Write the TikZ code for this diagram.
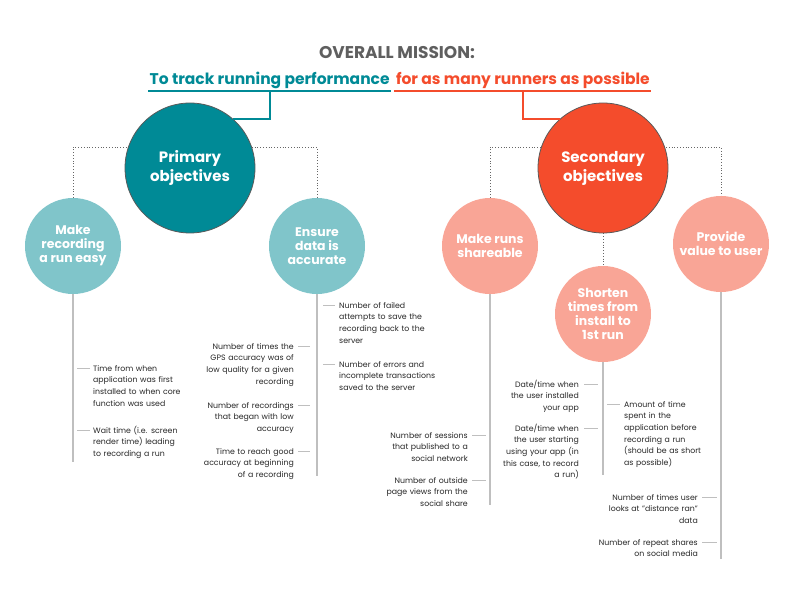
\documentclass[tikz,border=0pt]{standalone}
\usepackage{fontspec}
\setmainfont{Poppins}
\setsansfont{Poppins}
\definecolor{runteal}{RGB}{0,138,150}
\definecolor{runtealpale}{RGB}{128,197,202}
\definecolor{runorange}{RGB}{244,76,44}
\definecolor{runorangepale}{RGB}{249,165,150}
\definecolor{rungray}{RGB}{95,95,95}
\tikzset{every picture/.style={/utils/exec={\sffamily}}}
\usetikzlibrary{positioning}
\usetikzlibrary{backgrounds}

\tikzset{
  bigobj/.style={circle, minimum size=130pt, inner sep=0pt, draw=black!65, line width=0.8pt, text=white, align=center, font=\fontsize{15}{19}\selectfont\bfseries},
  subobj/.style={circle, minimum size=96pt, inner sep=0pt, text=white, align=center, font=\fontsize{12.5}{14}\selectfont\bfseries},
  goal/.style={anchor=base west, inner xsep=1.5pt, inner ysep=0pt, font=\fontsize{15.5}{19}\selectfont\bfseries},
  metricr/.style={anchor=base west, inner sep=0pt, text width=120pt, align=left, text=black!85, font=\fontsize{7.8}{11.7}\selectfont},
  metricl/.style={anchor=base east, inner sep=0pt, text width=120pt, align=right, text=black!85, font=\fontsize{7.8}{11.7}\selectfont},
  stem/.style={draw=black!25, line width=1.2pt},
  tick/.style={draw=black!25, line width=1pt},
  dots/.style={draw=black!60, dotted, line width=0.8pt},
}

\begin{document}
\begin{tikzpicture}[x=1pt, y=-1pt]
  \useasboundingbox (0,0) rectangle (792,612);

  % mission
  \node[font=\fontsize{17}{20}\selectfont\bfseries, text=rungray] (mission) at (397,53) {OVERALL MISSION:};
  \node[goal, text=runteal] (goalrun) at (148,85) {To track running performance};
  \node[goal, text=runorange, base right=3pt of goalrun] (goalall) {for as many runners as possible};

  % objectives
  \node[bigobj, fill=runteal] (prim) at (190,168) {Primary\\objectives};
  \node[bigobj, fill=runorange] (sec) at (603,168) {Secondary\\objectives};

  \node[subobj, fill=runtealpale] (easy) at (73,246) {Make\\recording\\a run easy};
  \node[subobj, fill=runtealpale] (accur) at (317,246) {Ensure\\data is\\accurate};
  \node[subobj, fill=runorangepale] (share) at (490,246) {Make runs\\shareable};
  \node[subobj, fill=runorangepale] (value) at (721,244) {Provide\\value to user};
  \node[subobj, fill=runorangepale] (install) at (603,314) {Shorten\\times from\\install to\\1st run};

  \begin{scope}[on background layer]
    \draw[dots] (easy.north) |- ([yshift=21pt]prim.center) -| (accur.north);
    \draw[dots] (share.north) |- ([yshift=21pt]sec.center) -| (value.north);
    \draw[dots] (sec.south) -- (install.north);
  \end{scope}

  \draw[runteal, line width=2pt] ([yshift=-6.5pt]goalrun.base west) -- ([yshift=-6.5pt]goalrun.base east);
  \draw[runorange, line width=2pt] ([yshift=-6.5pt]goalall.base west) -- ([yshift=-6.5pt]goalall.base east);
  \draw[runteal, line width=2pt] ([yshift=-6.5pt]goalrun.base) |- (prim.49);
  \draw[runorange, line width=2pt] ([yshift=-6.5pt]goalall.base) |- (sec.131);

  % stems
  \coordinate (easyend) at (73,462);
  \coordinate (accurend) at (317,476);
  \coordinate (shareend) at (490,505);
  \coordinate (installend) at (603,475);
  \coordinate (valueend) at (721,559);
  \draw[stem] (easy.south) -- (easyend);
  \draw[stem] (accur.south) -- (accurend);
  \draw[stem] (share.south) -- (shareend);
  \draw[stem] (install.south) -- (installend);
  \draw[stem] (value.south) -- (valueend);

  % make recording a run easy
  \node[metricr] (easya) at (93,371) {Time from when\\application was first\\installed to when core\\function was used};
  \node[metricr] (easyb) at (93,433) {Wait time (i.e. screen\\render time) leading\\to recording a run};
  \draw[tick] ([xshift=-3pt,yshift=3pt]easya.base west) -- ++(-13,0);
  \draw[tick] ([xshift=-3pt,yshift=3pt]easyb.base west) -- ++(-13,0);

  % ensure data is accurate
  \node[metricr] (accura) at (339,308) {Number of failed\\attempts to save the\\recording back to the\\server};
  \node[metricr] (accurb) at (339,367) {Number of errors and\\incomplete transactions\\saved to the server};
  \node[metricl] (accurc) at (294,349) {Number of times the\\GPS accuracy was of\\low quality for a given\\recording};
  \node[metricl] (accurd) at (294,408) {Number of recordings\\that began with low\\accuracy};
  \node[metricl] (accure) at (294,454) {Time to reach good\\accuracy at beginning\\of a recording};
  \draw[tick] ([xshift=-4pt,yshift=3pt]accura.base west) -- ++(-12,0);
  \draw[tick] ([xshift=-4pt,yshift=3pt]accurb.base west) -- ++(-12,0);
  \draw[tick] ([xshift=4pt,yshift=3pt]accurc.base east) -- ++(12,0);
  \draw[tick] ([xshift=4pt,yshift=3pt]accurd.base east) -- ++(12,0);
  \draw[tick] ([xshift=4pt,yshift=3pt]accure.base east) -- ++(12,0);

  % make runs shareable
  \node[metricl] (sharea) at (468,438) {Number of sessions\\that published to a\\social network};
  \node[metricl] (shareb) at (468,483) {Number of outside\\page views from the\\social share};
  \draw[tick] ([xshift=4pt,yshift=3pt]sharea.base east) -- ++(14,0);
  \draw[tick] ([xshift=4pt,yshift=3pt]shareb.base east) -- ++(14,0);

  % shorten times from install to 1st run
  \node[metricl] (installa) at (579,387) {Date/time when\\the user installed\\your app};
  \node[metricl] (installb) at (579,431) {Date/time when\\the user starting\\using your app (in\\this case, to record\\a run)};
  \node[metricr] (installc) at (624,407) {Amount of time\\spent in the\\application before\\recording a run\\(should be as short\\as possible)};
  \draw[tick] ([xshift=5pt,yshift=3pt]installa.base east) -- ++(14,0);
  \draw[tick] ([xshift=5pt,yshift=3pt]installb.base east) -- ++(14,0);
  \draw[tick] ([xshift=-4pt,yshift=3pt]installc.base west) -- ++(-13,0);

  % provide value to user
  \node[metricl] (valuea) at (698,500) {Number of times user\\looks at "distance ran"\\data};
  \node[metricl] (valueb) at (698,545) {Number of repeat shares\\on social media};
  \draw[tick] ([xshift=4pt,yshift=3pt]valuea.base east) -- ++(15,0);
  \draw[tick] ([xshift=4pt,yshift=3pt]valueb.base east) -- ++(15,0);
\end{tikzpicture}
\end{document}
